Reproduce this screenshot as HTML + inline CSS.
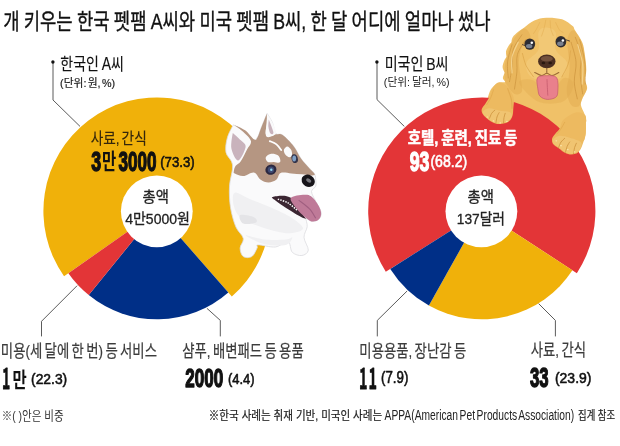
<!DOCTYPE html>
<html lang="ko"><head><meta charset="utf-8"><title>펫팸 지출 비교</title>
<style>html,body{margin:0;padding:0;background:#fff}svg{display:block}text{white-space:pre}</style>
</head><body>
<svg width="620" height="446" viewBox="0 0 620 446">
<rect width="620" height="446" fill="#fff"/>
<g id="cocker-body">
<path d="M546.4,17.7 C551.0,17.5 557.7,17.9 562.1,19.3 C566.5,20.7 570.5,24.4 572.6,26.1 C574.7,27.9 573.2,27.2 574.8,29.9 C576.4,32.5 580.5,38.0 582.2,42.2 C583.9,46.4 584.2,50.4 584.9,55.0 C585.6,59.6 586.3,65.4 586.3,69.6 C586.4,73.7 584.9,76.6 585.0,79.8 C585.2,82.9 587.5,85.4 587.1,88.5 C586.6,91.7 583.4,96.0 582.4,98.7 C581.4,101.5 580.7,102.4 580.9,104.9 C581.2,107.3 583.3,110.8 584.2,113.3 C585.1,115.8 586.0,118.3 586.3,120.0 C586.6,121.7 586.0,121.3 585.9,123.5 C585.8,125.7 586.0,130.5 585.7,133.4 C585.3,136.2 584.8,139.8 583.8,140.8 C582.9,141.7 580.5,139.5 579.8,139.2 C579.2,138.9 586.8,139.2 579.8,139.2 C572.9,139.2 550.1,140.2 537.9,139.2 C525.7,138.1 514.8,137.4 506.5,132.9 C498.1,128.4 490.4,118.8 487.6,111.9 C484.8,105.0 488.0,96.4 489.8,91.5 C491.6,86.7 495.9,84.4 498.4,82.9 C501.0,81.3 504.3,82.9 505.1,82.1 C505.8,81.4 502.9,79.8 502.9,78.2 C502.8,76.6 504.8,72.8 504.8,72.8 C504.8,72.8 502.7,69.3 502.6,67.3 C502.5,65.4 503.4,62.7 504.1,60.9 C504.8,59.2 506.6,57.0 506.6,57.0 C506.6,57.0 505.6,53.1 506.1,51.1 C506.5,49.0 508.4,46.1 509.3,44.7 C510.2,43.2 511.5,42.2 511.5,42.2 C511.5,42.2 511.6,39.0 512.7,37.3 C513.8,35.5 516.2,33.5 518.2,31.8 C520.1,30.2 521.6,29.3 524.3,27.4 C527.0,25.5 530.6,22.1 534.3,20.5 C537.9,18.9 541.7,17.9 546.4,17.7Z" fill="#F0C168" />
<path d="M524.3,28.4 C521.7,28.5 517.0,34.2 514.5,37.8 C511.9,41.3 510.3,45.2 508.8,49.6 C507.2,54.0 505.8,59.8 505.1,64.4 C504.4,69.0 504.3,73.8 504.6,77.2 C504.8,80.6 504.9,81.8 506.6,84.6 C508.2,87.4 511.9,92.8 514.5,94.0 C517.0,95.1 520.8,94.4 521.9,91.5 C522.9,88.6 521.1,81.7 520.6,76.7 C520.1,71.8 518.7,66.9 518.9,61.9 C519.1,57.0 519.9,51.2 521.9,47.1 C523.8,43.0 530.1,40.4 530.5,37.3 C530.9,34.1 527.0,28.3 524.3,28.4Z" fill="#DFA84C" opacity="0.42"/>
<path d="M573.6,30.4 C575.9,30.8 579.9,38.1 581.7,42.2 C583.5,46.3 583.9,50.4 584.6,55.0 C585.3,59.6 586.0,65.4 586.0,69.6 C586.1,73.7 584.6,76.6 584.7,79.8 C584.9,82.9 587.2,85.4 586.8,88.5 C586.3,91.7 583.4,95.8 582.1,98.7 C580.8,101.6 580.7,104.8 579.1,106.0 C577.4,107.3 574.3,107.5 572.5,106.3 C570.7,105.1 569.1,101.7 568.1,98.7 C567.1,95.8 566.5,92.2 566.7,88.5 C566.8,84.9 568.4,81.0 568.8,76.9 C569.3,72.7 569.8,69.9 569.6,63.7 C569.3,57.6 566.7,45.3 567.4,39.7 C568.1,34.2 571.2,29.9 573.6,30.4Z" fill="#DFA84C" opacity="0.42"/>
<path d="M521.9,34.8 C520.4,37.3 514.9,44.2 513.2,49.6 C511.6,54.9 512.6,61.5 512.0,66.9 C511.4,72.2 509.9,79.2 509.5,81.7" fill="none" stroke="#C98F3A" stroke-width="0.9" stroke-linecap="round" opacity="0.7"/>
<path d="M525.6,39.7 C524.2,42.2 518.9,49.2 517.4,54.5 C516.0,59.9 517.4,66.0 516.9,71.8 C516.4,77.5 514.9,86.2 514.5,89.1" fill="none" stroke="#C98F3A" stroke-width="0.9" stroke-linecap="round" opacity="0.7"/>
<path d="M512.0,44.7 C511.3,47.5 508.2,56.4 507.6,61.9 C506.9,67.5 508.2,75.3 508.3,78.0" fill="none" stroke="#C98F3A" stroke-width="0.9" stroke-linecap="round" opacity="0.7"/>
<path d="M575.3,37.3 C576.2,40.1 580.1,48.4 581.0,54.5 C581.8,60.7 579.9,67.7 580.2,74.3 C580.5,80.8 582.3,90.7 582.7,94.0" fill="none" stroke="#C98F3A" stroke-width="0.9" stroke-linecap="round" opacity="0.7"/>
<path d="M571.1,42.2 C571.9,45.5 575.5,55.3 576.0,61.9 C576.6,68.5 574.1,75.5 574.3,81.7 C574.5,87.8 576.8,96.0 577.3,98.9" fill="none" stroke="#C98F3A" stroke-width="0.9" stroke-linecap="round" opacity="0.7"/>
<path d="M579.7,39.7 C580.6,43.4 583.8,54.5 584.7,61.9 C585.6,69.3 585.1,80.4 585.2,84.1" fill="none" stroke="#C98F3A" stroke-width="0.9" stroke-linecap="round" opacity="0.7"/>
<path d="M518.2,42.2 C517.1,44.7 513.0,51.9 512.0,57.0 C511.0,62.1 512.0,70.3 512.0,73.0" fill="none" stroke="#F8DA98" stroke-width="1.2" stroke-linecap="round" opacity="0.8"/>
<path d="M577.8,44.7 C578.6,47.9 581.9,57.8 582.7,64.4 C583.4,71.0 582.3,80.8 582.2,84.1" fill="none" stroke="#F8DA98" stroke-width="1.2" stroke-linecap="round" opacity="0.8"/>
<path d="M519.0,82.6 C519.7,86.1 530.6,98.3 537.9,101.5 C545.2,104.6 557.1,104.2 563.1,101.5 C569.0,98.7 573.6,88.5 573.6,84.7 C573.6,80.8 567.3,76.3 563.1,78.4 C558.9,80.5 553.3,96.9 548.4,97.3 C543.5,97.6 538.6,82.9 533.7,80.5 C528.8,78.0 518.3,79.1 519.0,82.6Z" fill="#DFA84C" opacity="0.35"/>
<path d="M545.8,27.5 C548.7,27.5 554.1,28.7 555.7,32.4 C557.3,36.1 553.9,44.7 555.7,49.7 C557.6,54.6 565.4,57.9 566.8,62.0 C568.2,66.1 566.2,71.3 564.3,74.3 C562.5,77.3 560.0,79.1 555.7,80.0 C551.4,81.0 543.0,81.0 538.4,80.0 C533.9,79.1 530.5,77.3 528.6,74.3 C526.6,71.3 525.1,66.1 526.7,62.0 C528.4,57.9 536.5,54.6 538.4,49.7 C540.4,44.7 537.2,36.1 538.4,32.4 C539.7,28.7 543.0,27.5 545.8,27.5Z" fill="#F8DA98" opacity="0.28"/>
<path d="M545.8,20.1 C545.5,21.5 544.7,26.0 544.0,28.7 C543.3,31.4 541.9,34.9 541.5,36.1" fill="none" stroke="#DFA84C" stroke-width="0.9" stroke-linecap="round" opacity="0.5"/>
<path d="M550.2,20.7 C550.3,22.0 550.3,26.2 550.8,28.7 C551.3,31.2 552.8,34.4 553.2,35.5" fill="none" stroke="#DFA84C" stroke-width="0.9" stroke-linecap="round" opacity="0.5"/>
<path d="M539.7,22.5 C539.1,23.8 537.0,28.1 536.0,29.9 C534.9,31.8 533.9,33.0 533.5,33.6" fill="none" stroke="#DFA84C" stroke-width="0.9" stroke-linecap="round" opacity="0.5"/>
<path d="M555.7,22.5 C556.3,23.8 558.2,28.3 559.4,29.9 C560.6,31.6 562.5,32.0 563.1,32.4" fill="none" stroke="#DFA84C" stroke-width="0.9" stroke-linecap="round" opacity="0.5"/>
<path d="M522.4,53.4 C523.0,55.4 524.3,61.8 526.1,65.7 C528.0,69.6 532.3,75.0 533.5,76.8" fill="none" stroke="#DFA84C" stroke-width="1.0" stroke-linecap="round" opacity="0.8"/>
<path d="M570.5,50.9 C570.1,53.2 569.5,60.2 568.0,64.5 C566.6,68.8 562.9,74.7 561.9,76.8" fill="none" stroke="#DFA84C" stroke-width="1.0" stroke-linecap="round" opacity="0.8"/>
<ellipse cx="529.8" cy="44.1" rx="5.4" ry="5.7" fill="#3a3230"/>
<ellipse cx="529.8" cy="44.4" rx="4.5" ry="4.8" fill="#2c2c34"/>
<ellipse cx="529.2" cy="46.1" rx="3.2" ry="2.2" fill="#8f97a8" opacity="0.8"/>
<circle cx="531.8" cy="42.7" r="1.3" fill="#fff"/>
<path d="M522.6,44.7 C523.0,44.9 524.5,45.4 524.9,45.5" fill="none" stroke="#4a3a30" stroke-width="1.0" stroke-linecap="round" opacity="1"/>
<ellipse cx="560.9" cy="41.7" rx="5.4" ry="5.7" fill="#3a3230"/>
<ellipse cx="560.9" cy="42.0" rx="4.5" ry="4.8" fill="#2c2c34"/>
<ellipse cx="560.3" cy="43.7" rx="3.2" ry="2.2" fill="#8f97a8" opacity="0.8"/>
<circle cx="562.9" cy="40.5" r="1.3" fill="#fff"/>
<path d="M566.2,39.9 C566.7,40.1 569.0,40.8 569.5,41.0" fill="none" stroke="#4a3a30" stroke-width="1.0" stroke-linecap="round" opacity="1"/>
<ellipse cx="546.8" cy="61.4" rx="8.7" ry="6.9" fill="#4b2f22"/>
<ellipse cx="546.8" cy="58.8" rx="6" ry="2.8" fill="#7d5a45" opacity="0.8"/>
<ellipse cx="543.4" cy="63.0" rx="1.8" ry="1.2" fill="#2a1810"/><ellipse cx="550.2" cy="63.0" rx="1.8" ry="1.2" fill="#2a1810"/>
<path d="M546.8,68.2 C546.8,69.0 546.8,72.5 546.8,73.3" fill="none" stroke="#8a5a30" stroke-width="1.0" stroke-linecap="round" opacity="1"/>
<path d="M534.7,72.5 C535.9,73.0 539.5,75.4 541.5,75.6 C543.5,75.7 545.1,73.3 546.8,73.3 C548.6,73.3 550.0,75.7 552.0,75.6 C554.0,75.4 557.7,73.0 558.8,72.5" fill="none" stroke="#9a6a35" stroke-width="1.1" stroke-linecap="round" opacity="1"/>
<path d="M537.5,77.7 C539.0,75.6 543.6,75.7 546.8,75.7 C550.0,75.7 554.8,75.2 556.7,77.7 C558.5,80.3 558.0,87.7 557.8,91.0 C557.7,94.2 557.5,95.9 555.7,97.3 C554.0,98.7 550.0,99.5 547.3,99.4 C544.7,99.2 541.6,98.0 540.0,96.2 C538.4,94.5 538.3,92.0 537.9,88.9 C537.5,85.8 536.0,79.9 537.5,77.7Z" fill="#E9808C" stroke="#C95F70" stroke-width="0.8"/>
<path d="M547.0,79.6 C547.1,82.2 547.6,92.6 547.8,95.2" fill="none" stroke="#C95F70" stroke-width="0.9" stroke-linecap="round" opacity="1"/>
</g><g id="donut-left">
<path d="M157.0,211.0 L64.04,276.29 A113.6,113.6 0 1 1 231.83,296.47 Z" fill="#F0B10A"/>
<path d="M157.0,211.0 L228.34,292.49 A108.3,108.3 0 0 1 88.73,295.07 Z" fill="#002F87"/>
<path d="M157.0,211.0 L88.73,295.07 A108.3,108.3 0 0 1 68.37,273.24 Z" fill="#E33537"/>
<circle cx="156.8" cy="211.3" r="35.9" fill="#fff"/>
</g>
<g id="donut-right">
<path d="M481.8,211.0 L385.80,271.74 A113.6,113.6 0 1 1 576.86,273.20 Z" fill="#E33537"/>
<path d="M481.8,211.0 L572.42,270.30 A108.3,108.3 0 0 1 428.90,305.50 Z" fill="#F0B10A"/>
<path d="M481.8,211.0 L428.90,305.50 A108.3,108.3 0 0 1 390.28,268.90 Z" fill="#002F87"/>
<circle cx="481.4" cy="211.3" r="35.9" fill="#fff"/>
</g>
<g id="leaders">
<path d="M53.0,61.6 V100 L80.0,126.4" fill="none" stroke="#484848" stroke-width="0.9"/>
<circle cx="52.9" cy="62.0" r="1.7" fill="#111"/>
<path d="M377.0,61.6 V99.6 L404.3,126.4" fill="none" stroke="#484848" stroke-width="0.9"/>
<circle cx="376.9" cy="62.0" r="1.7" fill="#111"/>
<path d="M77.1,285.7 L41.5,321.3 V336.4" fill="none" stroke="#484848" stroke-width="0.9"/>
<path d="M206.9,308.3 L220.3,320.4 V336.4" fill="none" stroke="#484848" stroke-width="0.9"/>
<path d="M407.1,291 L377.3,320.4 V336.4" fill="none" stroke="#484848" stroke-width="0.9"/>
<path d="M538.6,303.6 L555.4,320.4 V336.4" fill="none" stroke="#484848" stroke-width="0.9"/>
</g><g id="husky">
<path d="M233.4,124.8 C233.4,124.8 238.9,127.7 242.2,130.2 C245.4,132.7 250.4,138.5 253.0,139.6 C255.5,140.8 256.3,138.8 257.7,136.9 C259.0,135.0 259.5,132.1 261.0,128.2 C262.6,124.3 267.1,113.4 267.1,113.4 C267.1,113.4 271.0,119.4 272.5,122.8 C273.9,126.2 274.1,131.5 275.8,133.6 C277.5,135.6 279.6,132.9 282.6,135.0 C285.6,137.1 290.7,142.5 293.8,146.4 C296.8,150.4 298.6,155.1 301.0,158.6 C303.4,162.0 305.9,164.5 308.2,167.0 C310.4,169.6 313.2,171.5 314.5,173.8 C315.8,176.0 315.6,178.7 315.8,180.8 C316.0,182.9 316.4,184.5 315.7,186.3 C315.0,188.1 311.5,189.1 311.5,191.6 C311.5,194.1 314.1,197.8 315.7,201.2 C317.3,204.6 320.5,208.8 321.0,211.9 C321.6,214.9 320.5,217.7 318.9,219.3 C317.3,220.9 313.6,221.6 311.5,221.4 C309.3,221.3 306.8,217.4 306.1,218.2 C305.4,219.1 307.6,223.6 307.2,226.8 C306.8,230.0 303.8,233.5 304.0,237.4 C304.2,241.3 308.6,247.2 308.3,250.2 C307.9,253.2 304.5,255.2 301.9,255.5 C299.2,255.9 294.6,254.6 292.3,252.3 C290.0,250.0 290.9,242.6 288.0,241.7 C285.2,240.8 280.2,246.5 275.2,247.0 C270.3,247.5 261.2,244.7 258.2,244.9 C255.2,245.0 258.2,246.1 257.1,248.1 C256.1,250.0 254.1,255.2 251.8,256.6 C249.5,258.0 245.3,258.0 243.3,256.6 C241.3,255.2 240.1,251.1 240.1,248.1 C240.1,245.0 244.0,242.0 243.3,238.5 C242.6,234.9 238.0,231.9 235.8,226.8 C233.7,221.6 231.6,214.3 230.5,207.6 C229.5,200.9 229.1,193.4 229.5,186.3 C229.8,179.2 233.2,170.6 232.6,165.0 C232.1,159.4 226.9,157.0 226.0,152.4 C225.2,147.8 226.1,142.2 227.4,137.6 C228.6,133.0 233.4,124.8 233.4,124.8Z" fill="#FAFAFB" stroke="#dcdce0" stroke-width="0.8" stroke-linejoin="round"/>
<path d="M234.8,192.7 C237.4,191.6 243.7,196.6 249.7,199.1 C255.7,201.6 263.9,204.4 271.0,207.6 C278.1,210.8 287.0,214.7 292.3,218.2 C297.6,221.8 304.0,226.4 302.9,228.9 C301.9,231.4 293.0,233.5 285.9,233.2 C278.8,232.8 267.8,229.3 260.3,226.8 C252.9,224.3 245.6,221.8 241.2,218.2 C236.7,214.7 234.8,209.7 233.7,205.5 C232.6,201.2 232.1,193.8 234.8,192.7Z" fill="#F0F0F2" />
<path d="M245.4,235.3 C245.4,234.5 257.9,238.8 264.6,239.5 C271.3,240.3 281.3,239.9 285.9,239.5 C290.5,239.2 292.3,236.5 292.3,237.4 C292.3,238.3 290.5,243.7 285.9,244.9 C281.3,246.0 271.3,245.8 264.6,244.2 C257.9,242.6 245.4,236.1 245.4,235.3Z" fill="#F0F0F2" />
<path d="M240.1,215.1 C241.9,214.0 251.3,215.9 253.9,217.2 C256.6,218.4 257.9,221.4 256.1,222.5 C254.3,223.6 246.0,224.8 243.3,223.6 C240.6,222.3 238.3,216.1 240.1,215.1Z" fill="#E4E4E7" />
<path d="M233.8,171.3 C234.0,170.0 234.3,167.6 235.5,165.9 C236.6,164.2 238.9,163.9 240.8,161.2 C242.7,158.5 245.2,153.1 246.9,149.7 C248.6,146.4 251.7,144.1 250.9,141.0 C250.2,137.9 245.0,133.8 242.2,131.1 C239.4,128.5 234.1,125.0 234.1,125.0 C234.1,125.0 241.8,127.9 245.1,130.3 C248.5,132.8 252.2,138.5 254.3,139.6 C256.4,140.7 256.5,138.8 257.7,136.9 C258.8,135.0 259.5,132.1 261.0,128.2 C262.6,124.3 266.8,113.7 266.8,113.7 C266.8,113.7 266.9,119.3 266.8,122.8 C266.7,126.3 264.6,133.0 266.1,134.9 C267.6,136.8 273.1,134.2 275.8,134.2 C278.6,134.3 279.6,133.0 282.6,135.0 C285.6,137.0 290.7,142.5 293.8,146.4 C296.8,150.4 298.6,155.1 301.0,158.6 C303.4,162.0 305.9,164.5 308.2,167.0 C310.4,169.6 313.8,172.4 314.5,173.8 C315.2,175.2 314.3,175.3 312.2,175.4 C310.1,175.5 305.6,174.6 302.1,174.3 C298.6,174.0 294.9,173.6 291.3,173.4 C287.8,173.1 283.0,171.9 280.6,173.0 C278.1,174.0 278.6,177.8 276.5,179.4 C274.5,181.0 271.2,182.4 268.5,182.4 C265.8,182.4 262.8,181.1 260.4,179.4 C258.0,177.8 256.8,173.0 253.9,172.5 C251.1,171.9 246.5,175.9 243.3,176.1 C240.1,176.3 236.4,174.3 234.8,173.5 C233.2,172.7 233.7,172.5 233.8,171.3Z" fill="#B59682" />
<path d="M232.8,132.9 C232.8,132.9 238.7,137.9 240.8,140.3 C243.0,142.7 246.0,143.7 245.6,147.0 C245.1,150.4 240.5,160.3 238.2,160.5 C235.8,160.7 232.3,153.0 231.4,148.4 C230.5,143.8 232.8,132.9 232.8,132.9Z" fill="#C9B3BC" />
<path d="M268.8,119.4 C268.8,119.4 273.1,129.9 273.4,132.2 C273.7,134.6 271.3,134.5 270.5,133.6 C269.6,132.7 268.7,129.2 268.4,126.8 C268.2,124.5 268.8,119.4 268.8,119.4Z" fill="#C9B3BC" />
<path d="M267.5,114.2 C267.5,114.2 271.1,119.6 272.5,122.8 C273.9,126.0 276.8,131.3 275.8,133.6 C274.8,135.9 267.9,138.3 266.4,136.5 C264.9,134.7 266.5,126.5 266.7,122.8 C266.9,119.1 267.5,114.2 267.5,114.2Z" fill="#FAFAFB" />
<path d="M268.8,119.4 C268.8,119.4 273.1,129.9 273.4,132.2 C273.7,134.6 271.3,134.5 270.5,133.6 C269.6,132.7 268.7,129.2 268.4,126.8 C268.2,124.5 268.8,119.4 268.8,119.4Z" fill="#C9B3BC" />
<path d="M265.8,157.2 C266.3,155.9 269.1,154.2 271.2,153.8 C273.2,153.5 276.4,154.2 277.9,155.2 C279.4,156.2 280.1,158.7 280.3,159.9 C280.5,161.1 280.3,162.3 279.2,162.6 C278.1,162.9 275.7,162.0 273.8,161.9 C271.9,161.8 269.1,162.7 267.8,161.9 C266.4,161.1 265.2,158.6 265.8,157.2Z" fill="#FAFAFB" />
<path d="M283.9,149.8 C284.3,148.5 286.1,146.4 287.3,146.4 C288.5,146.4 290.3,148.3 291.1,149.8 C291.9,151.3 292.3,154.0 292.0,155.2 C291.7,156.4 290.4,157.3 289.3,157.2 C288.2,157.1 286.2,155.7 285.3,154.5 C284.4,153.3 283.6,151.2 283.9,149.8Z" fill="#FAFAFB" />
<path d="M269.8,141.1 C270.9,141.6 274.6,142.9 276.5,144.4 C278.4,145.9 280.5,149.1 281.2,150.1" fill="none" stroke="#fff" stroke-width="1.8" stroke-linecap="round"/>
<ellipse cx="270.9" cy="169.7" rx="5.6" ry="5" transform="rotate(-20 270.9 169.7)" fill="#2b2840"/><circle cx="270.9" cy="169.7" r="3.2" fill="#3f4a73"/><circle cx="271.3" cy="169.7" r="1.2" fill="#8fd6ee"/>
<ellipse cx="294.7" cy="158.6" rx="3.1" ry="4.5" transform="rotate(-15 294.7 158.6)" fill="#34344a"/><ellipse cx="294.2" cy="158.6" rx="1.9" ry="3" fill="#7fa0c6"/>
<ellipse cx="308.2" cy="180.8" rx="6.9" ry="5.9" transform="rotate(30 308.2 180.8)" fill="#17151a"/><ellipse cx="308.5" cy="180.3" rx="2.8" ry="1.8" transform="rotate(30 308.2 180.8)" fill="#77767c"/>
<path d="M272.7,196.9 C274.6,196.4 282.3,195.4 285.9,196.1 C289.5,196.8 291.4,197.9 294.4,201.2 C297.4,204.5 302.2,213.2 304.0,216.1 C305.8,219.0 306.7,219.0 305.5,218.7 C304.3,218.4 300.5,216.7 296.5,214.4 C292.6,212.1 285.4,207.5 281.6,205.0 C277.9,202.6 275.7,200.9 274.2,199.5 C272.7,198.2 270.7,197.5 272.7,196.9Z" fill="#3b2632" />
<path d="M291.2,197.4 C293.4,195.5 303.1,194.2 307.2,194.8 C311.3,195.5 313.4,198.4 315.7,201.2 C318.0,204.0 320.5,208.8 321.0,211.9 C321.6,214.9 320.5,217.7 318.9,219.3 C317.3,220.9 314.1,222.1 311.5,221.4 C308.8,220.8 305.8,217.9 302.9,215.3 C300.1,212.7 296.4,208.9 294.4,205.9 C292.5,202.9 289.1,199.2 291.2,197.4Z" fill="#BF7A98" />
<path d="M298.7,200.1 C300.5,201.6 306.5,205.6 309.3,208.7 C312.2,211.7 314.7,216.7 315.7,218.2" fill="none" stroke="#A05F80" stroke-width="1.1"/>
<path d="M277.8,199.1 C279.5,199.7 284.8,201.1 288.0,202.9 C291.2,204.8 295.5,208.9 297.0,210.2" fill="none" stroke="#fff" stroke-width="1.5" stroke-dasharray="1.5 1.1"/>
</g><g id="cocker-paws">
<path d="M498.5,82.4 C496.0,82.8 493.8,86.1 492.3,88.6 C490.7,91.0 490.3,94.8 489.2,97.2 C488.1,99.7 486.7,101.4 485.5,103.4 C484.3,105.3 482.3,107.3 481.8,109.0 C481.3,110.6 481.7,112.0 482.4,113.5 C483.1,115.0 484.7,116.5 486.1,117.8 C487.6,119.2 489.2,120.5 491.0,121.5 C492.9,122.6 495.0,123.6 497.2,123.9 C499.5,124.2 502.5,123.9 504.6,123.3 C506.8,122.7 508.8,121.5 510.2,120.2 C511.5,118.8 512.1,117.1 512.7,115.1 C513.2,113.1 513.1,110.9 513.3,108.3 C513.5,105.8 514.1,102.2 513.9,99.7 C513.7,97.2 513.2,95.8 512.0,93.5 C510.9,91.3 509.4,88.0 507.1,86.1 C504.8,84.3 500.9,82.0 498.5,82.4Z" fill="#EDBA60" />
<path d="M484.3,110.2 C485.4,109.4 487.2,108.2 489.8,108.3 C492.4,108.4 496.4,110.2 499.7,110.8 C503.0,111.4 507.5,111.2 509.6,112.0 C511.6,112.9 512.0,114.5 512.0,115.7 C512.0,117.0 510.8,118.5 509.6,119.7 C508.3,120.8 506.4,122.1 504.4,122.7 C502.3,123.3 499.4,123.6 497.2,123.3 C495.0,123.0 493.1,121.9 491.3,120.9 C489.5,119.9 487.8,118.6 486.4,117.3 C485.0,116.1 483.3,114.5 482.9,113.3 C482.6,112.1 483.1,111.0 484.3,110.2Z" fill="#F8DA98" opacity="0.3"/>
<path d="M489.6,118.2 C489.9,117.4 490.8,114.6 491.7,113.3 C492.5,111.9 494.2,110.7 494.8,110.2" fill="none" stroke="#C98F3A" stroke-width="1.0" stroke-linecap="round" opacity="0.75"/>
<path d="M496.0,122.5 C496.2,121.6 496.5,118.6 497.0,117.0 C497.5,115.3 498.7,113.4 499.1,112.7" fill="none" stroke="#C98F3A" stroke-width="1.0" stroke-linecap="round" opacity="0.75"/>
<path d="M503.6,122.9 C503.7,122.0 503.7,119.2 504.0,117.6 C504.3,116.0 505.0,114.0 505.2,113.3" fill="none" stroke="#C98F3A" stroke-width="1.0" stroke-linecap="round" opacity="0.75"/>
<path d="M493.5,89.8 C493.0,91.3 491.6,96.0 490.4,98.5 C489.3,100.9 487.3,103.6 486.7,104.6" fill="none" stroke="#DFA84C" stroke-width="1" stroke-linecap="round" opacity="0.7"/>
<path d="M507.7,88.6 C508.3,90.4 510.7,96.4 511.4,99.7 C512.1,103.0 511.9,106.9 512.0,108.3" fill="none" stroke="#DFA84C" stroke-width="1.1" stroke-linecap="round" opacity="0.8"/>
<ellipse cx="487.3" cy="117.0" rx="0.9" ry="0.6" fill="#FBE7B0"/>
<ellipse cx="493.5" cy="120.9" rx="0.9" ry="0.6" fill="#FBE7B0"/>
<ellipse cx="500.3" cy="122.9" rx="0.9" ry="0.6" fill="#FBE7B0"/>
<ellipse cx="506.9" cy="121.4" rx="0.9" ry="0.6" fill="#FBE7B0"/>
<path d="M563.5,119.8 C560.8,122.5 561.1,126.2 559.8,128.4 C558.5,130.7 556.8,131.7 555.5,133.4 C554.2,135.0 552.6,136.6 552.2,138.3 C551.7,139.9 552.0,141.8 552.6,143.2 C553.3,144.6 554.9,145.6 556.1,146.6 C557.3,147.5 558.6,148.1 559.8,149.0 C561.0,149.9 561.9,151.0 563.5,151.9 C565.1,152.8 567.7,154.1 569.7,154.4 C571.6,154.8 573.7,154.3 575.2,153.8 C576.8,153.3 577.9,152.4 578.9,151.4 C579.9,150.3 580.6,149.3 581.4,147.5 C582.2,145.8 583.1,143.1 583.8,140.8 C584.6,138.4 585.3,136.2 585.7,133.4 C586.0,130.5 586.0,126.6 585.9,123.5 C585.8,120.4 586.8,116.7 585.1,114.9 C583.4,113.0 579.4,111.6 575.8,112.4 C572.2,113.2 566.2,117.1 563.5,119.8Z" fill="#EDBA60" />
<path d="M553.6,138.9 C554.7,137.7 557.1,136.0 559.8,135.8 C562.5,135.6 566.2,136.6 569.7,137.7 C573.2,138.7 578.9,140.3 580.8,142.0 C582.6,143.6 581.2,146.1 580.8,147.5 C580.3,149.0 579.3,149.9 578.3,150.9 C577.3,151.8 576.4,152.7 575.0,153.2 C573.5,153.7 571.5,154.2 569.7,153.8 C567.8,153.5 565.9,152.5 563.7,151.2 C561.6,150.0 558.5,147.7 556.7,146.3 C554.9,144.9 553.7,144.2 553.1,143.0 C552.6,141.7 552.5,140.1 553.6,138.9Z" fill="#F8DA98" opacity="0.3"/>
<path d="M558.6,147.5 C559.0,146.6 560.0,143.5 561.0,142.0 C562.1,140.5 564.1,138.9 564.7,138.3" fill="none" stroke="#C98F3A" stroke-width="1.0" stroke-linecap="round" opacity="0.75"/>
<path d="M565.3,152.5 C565.7,151.4 566.5,148.1 567.2,146.3 C567.9,144.6 569.2,142.7 569.7,142.0" fill="none" stroke="#C98F3A" stroke-width="1.0" stroke-linecap="round" opacity="0.75"/>
<path d="M573.6,153.7 C573.8,152.7 574.1,149.3 574.6,147.5 C575.1,145.8 576.1,143.9 576.4,143.2" fill="none" stroke="#C98F3A" stroke-width="1.0" stroke-linecap="round" opacity="0.75"/>
<path d="M564.7,122.3 C564.0,123.5 561.7,127.7 560.4,129.7 C559.1,131.6 557.3,133.3 556.7,134.0" fill="none" stroke="#DFA84C" stroke-width="1" stroke-linecap="round" opacity="0.7"/>
<ellipse cx="556.3" cy="140.8" rx="0.9" ry="0.6" fill="#FBE7B0"/>
<ellipse cx="561.0" cy="145.7" rx="0.9" ry="0.6" fill="#FBE7B0"/>
<ellipse cx="567.8" cy="149.6" rx="0.9" ry="0.6" fill="#FBE7B0"/>
<ellipse cx="574.6" cy="151.9" rx="0.9" ry="0.6" fill="#FBE7B0"/>
</g>
<g id="labels">
<text transform="translate(3.16,29.27) scale(0.8061,1)" font-family='"Liberation Sans","Noto Sans CJK KR",sans-serif' font-weight="400" font-size="22.04" fill="#111" stroke="#111" stroke-width="0.3" stroke-linejoin="round" vector-effect="non-scaling-stroke" word-spacing="-0.04em">개 키우는 한국 펫팸 A씨와 미국 펫팸 B씨, 한 달 어디에 얼마나 썼나</text>
<text transform="translate(60.36,69.96) scale(0.7984,1)" font-family='"Liberation Sans","Noto Sans CJK KR",sans-serif' font-weight="400" font-size="17.51" fill="#111" stroke="#111" stroke-width="0.12" stroke-linejoin="round" vector-effect="non-scaling-stroke" word-spacing="-0.08em">한국인 A씨</text>
<text transform="translate(60.05,86.54) scale(0.9567,1)" font-family='"Liberation Sans","Noto Sans CJK KR",sans-serif' font-weight="400" font-size="11.24" fill="#222" stroke="#222" stroke-width="0.2" stroke-linejoin="round" vector-effect="non-scaling-stroke" word-spacing="-0.15em">(단위: 원, %)</text>
<text transform="translate(90.65,143.61) scale(0.8624,1)" font-family='"Liberation Sans","Noto Sans CJK KR",sans-serif' font-weight="400" font-size="15.89" fill="#33260c" stroke="#33260c" stroke-width="0.12" stroke-linejoin="round" vector-effect="non-scaling-stroke" word-spacing="-0.14em">사료, 간식</text>
<text transform="translate(91.34,170.72) scale(0.6319,1)" font-family='"Liberation Sans","Noto Sans CJK KR",sans-serif' font-weight="700" font-size="28.17" fill="#111" stroke="#111" stroke-width="1.2" stroke-linejoin="round" vector-effect="non-scaling-stroke">3</text>
<text transform="translate(102.07,169.28) scale(0.7196,1)" font-family='"Liberation Sans","Noto Sans CJK KR",sans-serif' font-weight="700" font-size="21.51" fill="#111">만</text>
<text transform="translate(118.56,170.72) scale(0.6074,1)" font-family='"Liberation Sans","Noto Sans CJK KR",sans-serif' font-weight="700" font-size="28.17" fill="#111" stroke="#111" stroke-width="1.2" stroke-linejoin="round" vector-effect="non-scaling-stroke">3000</text>
<text transform="translate(160.18,167.27) scale(0.8543,1)" font-family='"Liberation Sans","Noto Sans CJK KR",sans-serif' font-weight="400" font-size="15.48" fill="#111" stroke="#111" stroke-width="0.55" stroke-linejoin="round" vector-effect="non-scaling-stroke">(73.3)</text>
<text transform="translate(142.53,202.43) scale(0.9832,1)" font-family='"Liberation Sans","Noto Sans CJK KR",sans-serif' font-weight="400" font-size="14.62" fill="#222" stroke="#222" stroke-width="0.3" stroke-linejoin="round" vector-effect="non-scaling-stroke">총액</text>
<text transform="translate(125.17,223.84) scale(0.9278,1)" font-family='"Liberation Sans","Noto Sans CJK KR",sans-serif' font-weight="400" font-size="15.11" fill="#222" stroke="#222" stroke-width="0.3" stroke-linejoin="round" vector-effect="non-scaling-stroke">4만5000원</text>
<text transform="translate(0.86,356.73) scale(0.7686,1)" font-family='"Liberation Sans","Noto Sans CJK KR",sans-serif' font-weight="400" font-size="17.42" fill="#3c3c3c" stroke="#3c3c3c" stroke-width="0.2" stroke-linejoin="round" vector-effect="non-scaling-stroke" word-spacing="-0.1em">미용(세 달에 한 번) 등 서비스</text>
<text transform="translate(1.98,389.40) scale(0.5040,1)" font-family='"Noto Sans CJK KR",sans-serif' font-weight="700" font-size="27.78" fill="#111" stroke="#111" stroke-width="0.6" stroke-linejoin="round" vector-effect="non-scaling-stroke">1</text>
<text transform="translate(12.57,387.12) scale(0.7381,1)" font-family='"Liberation Sans","Noto Sans CJK KR",sans-serif' font-weight="700" font-size="20.97" fill="#111">만</text>
<text transform="translate(31.04,383.80) scale(0.9019,1)" font-family='"Liberation Sans","Noto Sans CJK KR",sans-serif' font-weight="400" font-size="15.37" fill="#111" stroke="#111" stroke-width="0.55" stroke-linejoin="round" vector-effect="non-scaling-stroke">(22.3)</text>
<text transform="translate(1.63,420.37) scale(0.8364,1)" font-family='"Liberation Sans","Noto Sans CJK KR",sans-serif' font-weight="400" font-size="12.58" fill="#333">※( )안은 비중</text>
<text transform="translate(182.27,356.73) scale(0.7672,1)" font-family='"Liberation Sans","Noto Sans CJK KR",sans-serif' font-weight="400" font-size="17.42" fill="#3c3c3c" stroke="#3c3c3c" stroke-width="0.2" stroke-linejoin="round" vector-effect="non-scaling-stroke" word-spacing="-0.1em">샴푸, 배변패드 등 용품</text>
<text transform="translate(185.29,387.03) scale(0.6405,1)" font-family='"Liberation Sans","Noto Sans CJK KR",sans-serif' font-weight="700" font-size="26.62" fill="#111" stroke="#111" stroke-width="1.2" stroke-linejoin="round" vector-effect="non-scaling-stroke">2000</text>
<text transform="translate(227.90,383.67) scale(0.8395,1)" font-family='"Liberation Sans","Noto Sans CJK KR",sans-serif' font-weight="400" font-size="15.48" fill="#111" stroke="#111" stroke-width="0.55" stroke-linejoin="round" vector-effect="non-scaling-stroke">(4.4)</text>
<text transform="translate(208.82,420.08) scale(0.8452,1)" font-family='"Liberation Sans","Noto Sans CJK KR",sans-serif' font-weight="400" font-size="12.47" fill="#222" stroke="#222" stroke-width="0.2" stroke-linejoin="round" vector-effect="non-scaling-stroke">※한국 사례는 취재 기반, 미국인 사례는 </text>
<text transform="translate(384.60,420.30) scale(0.7425,1)" font-family='"Liberation Sans","Noto Sans CJK KR",sans-serif' font-weight="400" font-size="13.83" fill="#222" word-spacing="-0.12em">APPA(American Pet Products Association)</text>
<text transform="translate(578.04,420.08) scale(0.7501,1)" font-family='"Liberation Sans","Noto Sans CJK KR",sans-serif' font-weight="400" font-size="12.47" fill="#222" stroke="#222" stroke-width="0.2" stroke-linejoin="round" vector-effect="non-scaling-stroke">집계 참조</text>
<text transform="translate(384.66,70.44) scale(0.8438,1)" font-family='"Liberation Sans","Noto Sans CJK KR",sans-serif' font-weight="400" font-size="16.65" fill="#111" stroke="#111" stroke-width="0.12" stroke-linejoin="round" vector-effect="non-scaling-stroke" word-spacing="-0.08em">미국인 B씨</text>
<text transform="translate(383.86,86.10) scale(0.9354,1)" font-family='"Liberation Sans","Noto Sans CJK KR",sans-serif' font-weight="400" font-size="11.43" fill="#222" word-spacing="-0.1em">(단위: 달러, %)</text>
<text transform="translate(407.77,143.90) scale(0.8743,1)" font-family='"Liberation Sans","Noto Sans CJK KR",sans-serif' font-weight="700" font-size="16.53" fill="#fff" stroke="#fff" stroke-width="0.5" stroke-linejoin="round" vector-effect="non-scaling-stroke" word-spacing="-0.08em">호텔, 훈련, 진료 등</text>
<text transform="translate(409.77,170.52) scale(0.6278,1)" font-family='"Liberation Sans","Noto Sans CJK KR",sans-serif' font-weight="700" font-size="28.17" fill="#fff" stroke="#fff" stroke-width="1.2" stroke-linejoin="round" vector-effect="non-scaling-stroke">93</text>
<text transform="translate(430.43,166.93) scale(0.8988,1)" font-family='"Liberation Sans","Noto Sans CJK KR",sans-serif' font-weight="400" font-size="15.69" fill="#fff" stroke="#fff" stroke-width="0.55" stroke-linejoin="round" vector-effect="non-scaling-stroke">(68.2)</text>
<text transform="translate(467.53,202.43) scale(0.9832,1)" font-family='"Liberation Sans","Noto Sans CJK KR",sans-serif' font-weight="400" font-size="14.62" fill="#222" stroke="#222" stroke-width="0.3" stroke-linejoin="round" vector-effect="non-scaling-stroke">총액</text>
<text transform="translate(456.79,223.61) scale(0.9260,1)" font-family='"Liberation Sans","Noto Sans CJK KR",sans-serif' font-weight="400" font-size="14.84" fill="#222" stroke="#222" stroke-width="0.3" stroke-linejoin="round" vector-effect="non-scaling-stroke">137달러</text>
<text transform="translate(359.36,356.73) scale(0.7678,1)" font-family='"Liberation Sans","Noto Sans CJK KR",sans-serif' font-weight="400" font-size="17.42" fill="#3c3c3c" stroke="#3c3c3c" stroke-width="0.2" stroke-linejoin="round" vector-effect="non-scaling-stroke" word-spacing="-0.1em">미용용품, 장난감 등</text>
<text transform="translate(359.05,388.50) scale(0.5171,1)" font-family='"Noto Sans CJK KR",sans-serif' font-weight="700" font-size="27.78" fill="#111" stroke="#111" stroke-width="0.6" stroke-linejoin="round" vector-effect="non-scaling-stroke" letter-spacing="0.06em">11</text>
<text transform="translate(380.98,382.93) scale(0.8478,1)" font-family='"Liberation Sans","Noto Sans CJK KR",sans-serif' font-weight="400" font-size="15.69" fill="#111" stroke="#111" stroke-width="0.55" stroke-linejoin="round" vector-effect="non-scaling-stroke">(7.9)</text>
<text transform="translate(530.70,356.37) scale(0.7886,1)" font-family='"Liberation Sans","Noto Sans CJK KR",sans-serif' font-weight="400" font-size="16.99" fill="#3c3c3c" stroke="#3c3c3c" stroke-width="0.2" stroke-linejoin="round" vector-effect="non-scaling-stroke" word-spacing="-0.1em">사료, 간식</text>
<text transform="translate(529.96,386.92) scale(0.6071,1)" font-family='"Liberation Sans","Noto Sans CJK KR",sans-serif' font-weight="700" font-size="27.61" fill="#111" stroke="#111" stroke-width="1.2" stroke-linejoin="round" vector-effect="non-scaling-stroke">33</text>
<text transform="translate(554.94,382.50) scale(0.9097,1)" font-family='"Liberation Sans","Noto Sans CJK KR",sans-serif' font-weight="400" font-size="15.37" fill="#111" stroke="#111" stroke-width="0.55" stroke-linejoin="round" vector-effect="non-scaling-stroke">(23.9)</text>
</g>

</svg>
</body></html>
